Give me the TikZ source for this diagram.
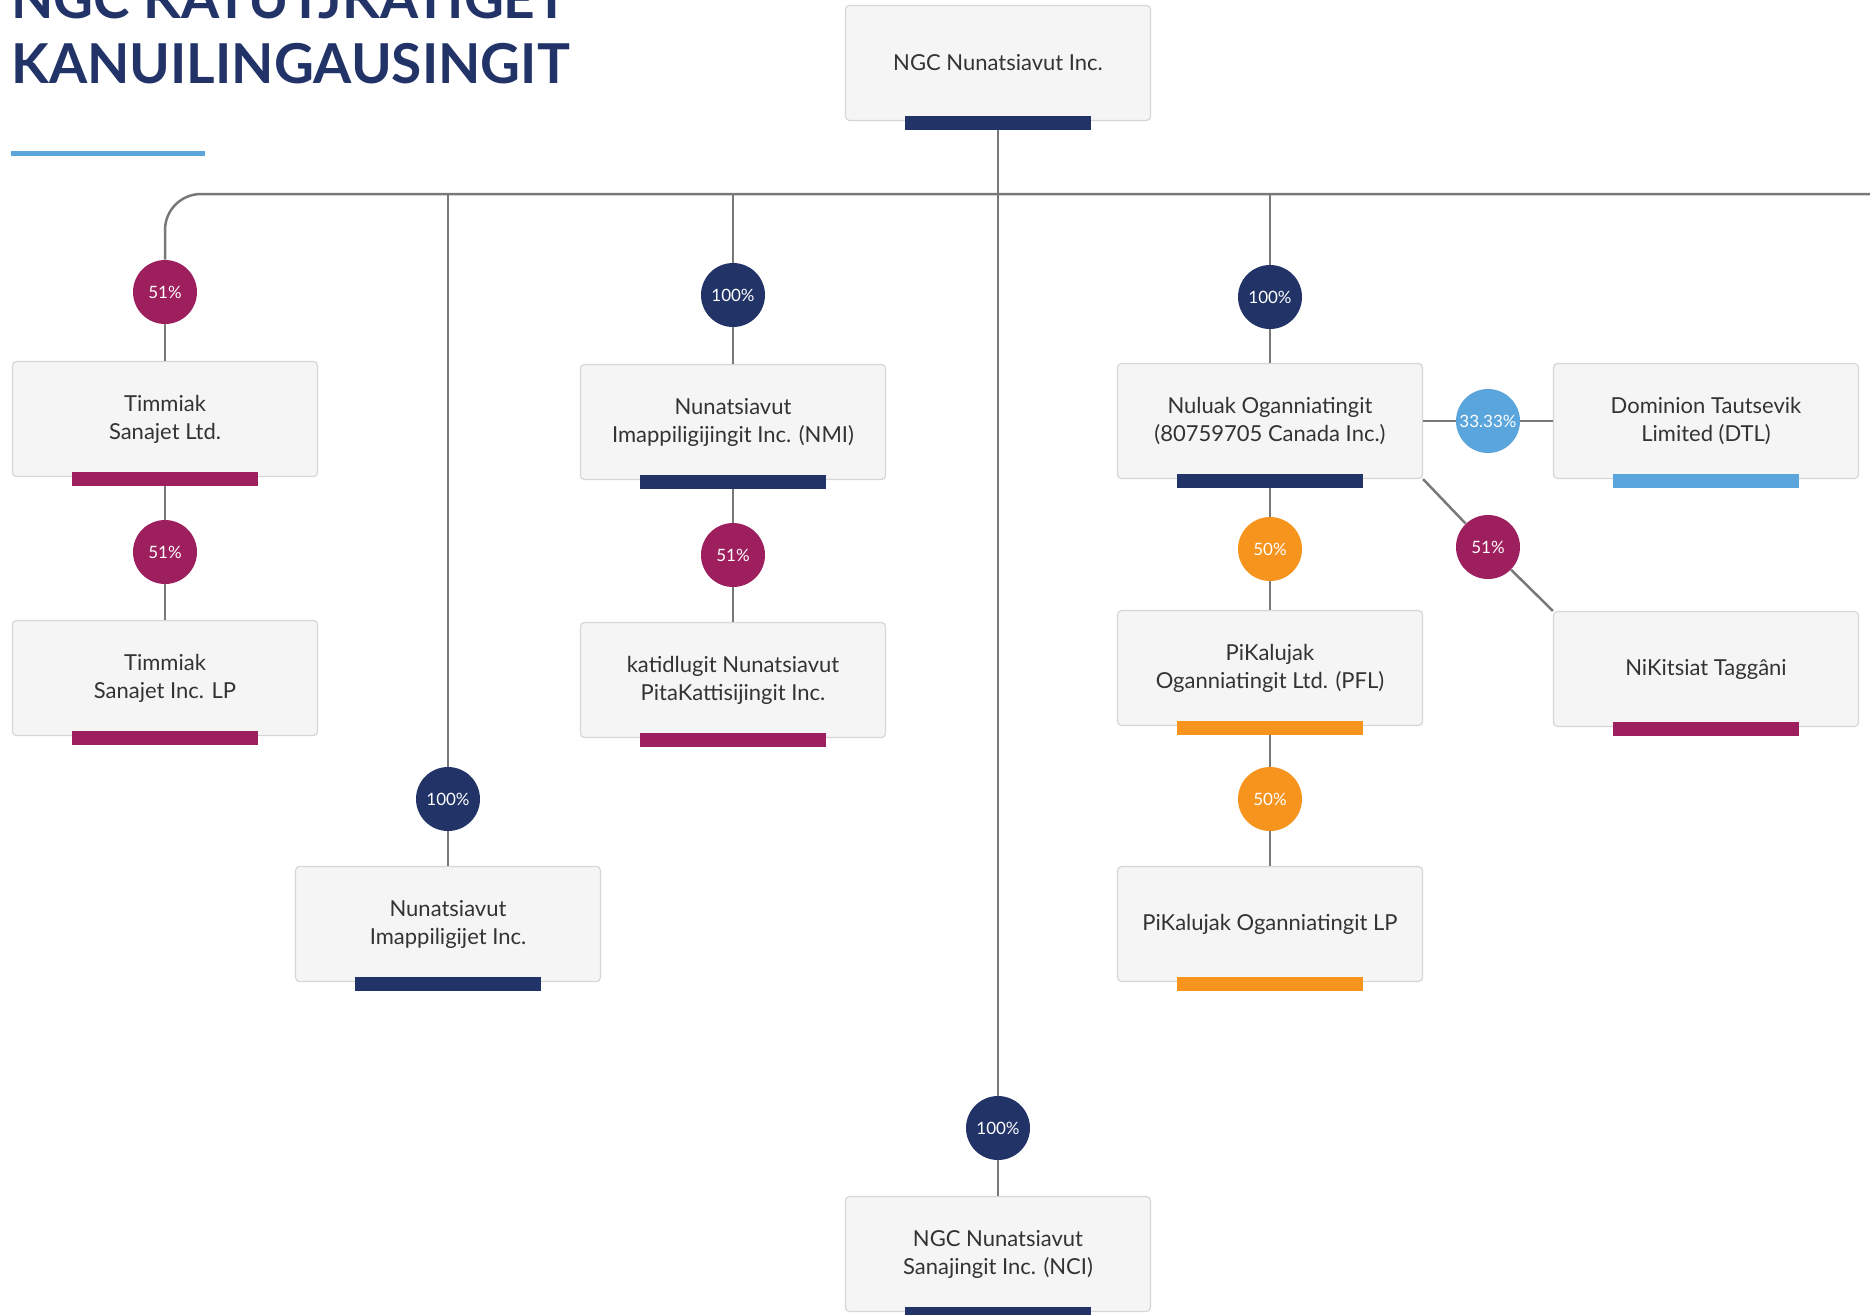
\documentclass[tikz,border=0pt]{standalone}
\usepackage{fontspec}
\setmainfont{Lato}
\usepackage{tikz}
\usetikzlibrary{positioning}
\definecolor{ngnavy}{RGB}{34,51,104}
\definecolor{ngmagenta}{RGB}{158,31,94}
\definecolor{ngorange}{RGB}{247,148,30}
\definecolor{ngsky}{RGB}{90,165,220}
\definecolor{nggray}{RGB}{120,120,120}
\definecolor{ngboxfill}{RGB}{245,245,245}
\definecolor{ngboxline}{RGB}{214,214,214}
\definecolor{ngtext}{RGB}{51,51,51}
\tikzstyle{entity} = [rectangle, rounded corners=2pt, minimum width=152.5pt, minimum height=57.5pt, align=center, draw=ngboxline, fill=ngboxfill, line width=0.6pt, text=ngtext, font=\fontsize{11}{14}\selectfont]
\tikzstyle{link} = [line width=1.25pt, color=nggray]
\tikzset{
  bar/.style={rectangle, inner sep=0pt, minimum width=93pt, minimum height=6.75pt, fill=#1, yshift=-1pt},
  pct/.style={circle, inner sep=0pt, minimum size=32pt, fill=#1, text=white, font=\fontsize{8.5}{10}\selectfont},
  heading/.style={anchor=base west, inner sep=0pt, text=ngnavy, font=\fontsize{27.5}{32}\selectfont\bfseries}
}

\begin{document}
\begin{tikzpicture}[x=0.5pt, y=-0.5pt]
\useasboundingbox (0,0) rectangle (1870,1314);

% Title
\node[heading] (title1) at (11,18) {NGC KATUTJKATIGET};
\node[heading] (title2) at (11,83) {KANUILINGAUSINGIT};
\fill[ngsky] (11,151) rectangle (205,156);

% Entities
\node (ngc) [entity] at (998,63) {NGC Nunatsiavut Inc.};
\node (tsl) [entity] at (165,419) {Timmiak\\Sanajet Ltd.};
\node (tsi) [entity] at (165,678) {Timmiak\\Sanajet Inc. LP};
\node (nii) [entity] at (448,924) {Nunatsiavut\\Imappiligijet Inc.};
\node (nmi) [entity] at (733,422) {Nunatsiavut\\Imappiligijingit Inc. (NMI)};
\node (kat) [entity] at (733,680) {katidlugit Nunatsiavut\\PitaKattisijingit Inc.};
\node (nci) [entity] at (998,1254) {NGC Nunatsiavut\\Sanajingit Inc. (NCI)};
\node (nuluak) [entity] at (1270,421) {Nuluak Oganniatingit\\(80759705 Canada Inc.)};
\node (dtl) [entity] at (1706,421) {Dominion Tautsevik\\Limited (DTL)};
\node (pfl) [entity] at (1270,668) {PiKalujak\\Oganniatingit Ltd. (PFL)};
\node (nikit) [entity] at (1706,669) {NiKitsiat Taggâni};
\node (pklp) [entity] at (1270,924) {PiKalujak Oganniatingit LP};

% Colour bars
\node (ngcbar) [bar=ngnavy] at (ngc.south) {};
\node (tslbar) [bar=ngmagenta] at (tsl.south) {};
\node (tsibar) [bar=ngmagenta] at (tsi.south) {};
\node (niibar) [bar=ngnavy] at (nii.south) {};
\node (nmibar) [bar=ngnavy] at (nmi.south) {};
\node (katbar) [bar=ngmagenta] at (kat.south) {};
\node (ncibar) [bar=ngnavy] at (nci.south) {};
\node (nuluakbar) [bar=ngnavy] at (nuluak.south) {};
\node (dtlbar) [bar=ngsky] at (dtl.south) {};
\node (pflbar) [bar=ngorange] at (pfl.south) {};
\node (nikitbar) [bar=ngmagenta] at (nikit.south) {};
\node (pklpbar) [bar=ngorange] at (pklp.south) {};

% Shares
\node (tslpct) [pct=ngmagenta] at (165,292) {51\%};
\node (tsipct) [pct=ngmagenta] at (165,552) {51\%};
\node (niipct) [pct=ngnavy] at (448,799) {100\%};
\node (nmipct) [pct=ngnavy] at (733,295) {100\%};
\node (katpct) [pct=ngmagenta] at (733,555) {51\%};
\node (ncipct) [pct=ngnavy] at (998,1128) {100\%};
\node (nuluakpct) [pct=ngnavy] at (1270,297) {100\%};
\node (pflpct) [pct=ngorange] at (1270,549) {50\%};
\node (pklppct) [pct=ngorange] at (1270,799) {50\%};
\node (dtlpct) [pct=ngsky] at (1488,421) {33.33\%};
\node (nikitpct) [pct=ngmagenta] at (1488,547) {51\%};

% Trunk and branches
\coordinate (trunkend) at (1870,194);
\draw[link, rounded corners=18pt] (tslpct) |- (trunkend);
\draw[link] (niipct |- trunkend) -- (niipct);
\draw[link] (nmipct |- trunkend) -- (nmipct);
\draw[link] (nuluakpct |- trunkend) -- (nuluakpct);
\draw[link] (ngcbar) -- (ncipct);

\draw[link] (tslpct) -- (tsl);
\draw[link] (tslbar) -- (tsipct);
\draw[link] (tsipct) -- (tsi);
\draw[link] (niipct) -- (nii);
\draw[link] (nmipct) -- (nmi);
\draw[link] (nmibar) -- (katpct);
\draw[link] (katpct) -- (kat);
\draw[link] (ncipct) -- (nci);
\draw[link] (nuluakpct) -- (nuluak);
\draw[link] (nuluakbar) -- (pflpct);
\draw[link] (pflpct) -- (pfl);
\draw[link] (pflbar) -- (pklppct);
\draw[link] (pklppct) -- (pklp);
\draw[link] (nuluak) -- (dtlpct) -- (dtl);
\draw[link] (nuluak.south east) -- (nikitpct) -- (nikit.north west);
\end{tikzpicture}
\end{document}
